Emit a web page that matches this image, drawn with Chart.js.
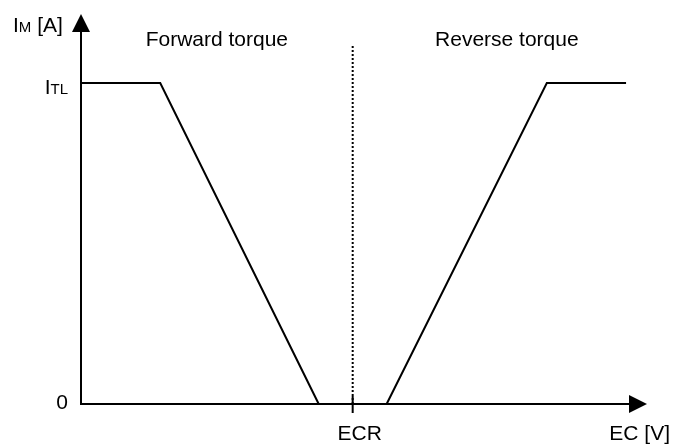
<!DOCTYPE html>
<html>
<head>
<meta charset="utf-8">
<script src="https://cdn.jsdelivr.net/npm/chart.js@4"></script>
<style>
  html, body { margin: 0; padding: 0; background: #fff; }
  #wrap { width: 674px; height: 448px; }
</style>
</head>
<body>
<div id="wrap"><canvas id="torque-chart"></canvas></div>
<script>
// Forward torque branch (EC on x, IM on y, ITL = 1)
const forwardEc = [0, 14, 42];
const forwardIm = [1, 1, 0];
// Reverse torque branch
const reverseEc = [54, 82.3, 96.3];
const reverseIm = [0, 1, 1];
// ECR marker and the dotted divider
const ecrValue = 48;
const dividerIm = [0, 1.12];
// text
const regionLabels = ['Forward torque', 'Reverse torque'];
const yTickValues = [0, 1];
const yTickLabels = [[['0', 21]], [['I', 21], ['TL', 15]]];
const yTitle = [['I', 21], ['M', 15], [' [A]', 21]];
const xTickLabel = 'ECR';
const xTitle = 'EC [V]';

const FONT = '"Liberation Sans", Arial, sans-serif';

//draws text made of parts with different sizes, baseline aligned
function richText(ctx, parts, x, y, align) {
    let width = 0;
    parts.forEach(p => { ctx.font = p[1] + 'px ' + FONT; width += ctx.measureText(p[0]).width; });
    let cx = align === 'right' ? x - width : align === 'center' ? x - width / 2 : x;
    ctx.textAlign = 'left';
    parts.forEach(p => {
        ctx.font = p[1] + 'px ' + FONT;
        ctx.fillText(p[0], cx, y);
        cx += ctx.measureText(p[0]).width;
    });
}

const axesPlugin = {
    id: 'axes',
    beforeDatasetsDraw(chart) {
        const { ctx, chartArea: a, scales: { x, y } } = chart;
        const x0 = x.getPixelForValue(0), y0 = y.getPixelForValue(0);
        ctx.save();
        ctx.strokeStyle = '#000';
        ctx.fillStyle = '#000';
        ctx.lineWidth = 2;
        ctx.beginPath();
        ctx.moveTo(x0, a.top + 16);
        ctx.lineTo(x0, y0);
        ctx.lineTo(a.right - 17, y0);
        ctx.stroke();
        // arrow heads
        ctx.beginPath();
        ctx.moveTo(x0, a.top);
        ctx.lineTo(x0 - 9, a.top + 18);
        ctx.lineTo(x0 + 9, a.top + 18);
        ctx.closePath();
        ctx.fill();
        ctx.beginPath();
        ctx.moveTo(a.right, y0);
        ctx.lineTo(a.right - 18, y0 - 9);
        ctx.lineTo(a.right - 18, y0 + 9);
        ctx.closePath();
        ctx.fill();
        // ECR tick
        const xe = x.getPixelForValue(ecrValue);
        ctx.beginPath();
        ctx.moveTo(xe, y0 - 8);
        ctx.lineTo(xe, y0 + 9);
        ctx.stroke();
        ctx.restore();
    },
    afterDatasetsDraw(chart) {
        const { ctx, chartArea: a, scales: { x, y } } = chart;
        const x0 = x.getPixelForValue(0), y0 = y.getPixelForValue(0);
        const xe = x.getPixelForValue(ecrValue);
        ctx.save();
        ctx.fillStyle = '#000';
        ctx.textBaseline = 'alphabetic';
        // y tick labels
        yTickValues.forEach((v, i) => {
            const py = y.getPixelForValue(v);
            richText(ctx, yTickLabels[i], x0 - 13, py + (v === 0 ? 5 : 11), 'right');
        });
        richText(ctx, yTitle, 13, 32, 'left');
        // x labels
        richText(ctx, [[xTickLabel, 21]], xe + 7, y0 + 36, 'center');
        richText(ctx, [[xTitle, 21]], a.right + 23, y0 + 36, 'right');
        // region labels
        richText(ctx, [[regionLabels[0], 21]], (x0 + xe) / 2, 46, 'center');
        richText(ctx, [[regionLabels[1], 21]], (xe + a.right) / 2 + 7, 46, 'center');
        ctx.restore();
    }
};

const toPoints = (xs, ys) => xs.map((v, i) => ({ x: v, y: ys[i] }));

new Chart(document.querySelector('#torque-chart').getContext('2d'), {
    type: 'line',
    data: {
        datasets: [
            {
                label: regionLabels[0],
                data: toPoints(forwardEc, forwardIm),
                borderColor: '#000',
                borderWidth: 2,
                pointRadius: 0,
                clip: false
            },
            {
                label: regionLabels[1],
                data: toPoints(reverseEc, reverseIm),
                borderColor: '#000',
                borderWidth: 2,
                pointRadius: 0,
                clip: false
            },
            {
                label: xTickLabel,
                data: toPoints([ecrValue, ecrValue], dividerIm),
                borderColor: '#000',
                borderWidth: 2,
                borderDash: [2, 2],
                pointRadius: 0,
                clip: false
            }
        ]
    },
    options: {
        responsive: true,
        maintainAspectRatio: false,
        animation: false,
        layout: { padding: { left: 81, right: 27, top: 14, bottom: 44 } },
        plugins: { legend: { display: false }, tooltip: { enabled: false } },
        scales: {
            x: { type: 'linear', min: 0, max: 100, display: false },
            y: { type: 'linear', min: 0, max: 1.215, display: false }
        }
    },
    plugins: [axesPlugin]
});
</script>
</body>
</html>
